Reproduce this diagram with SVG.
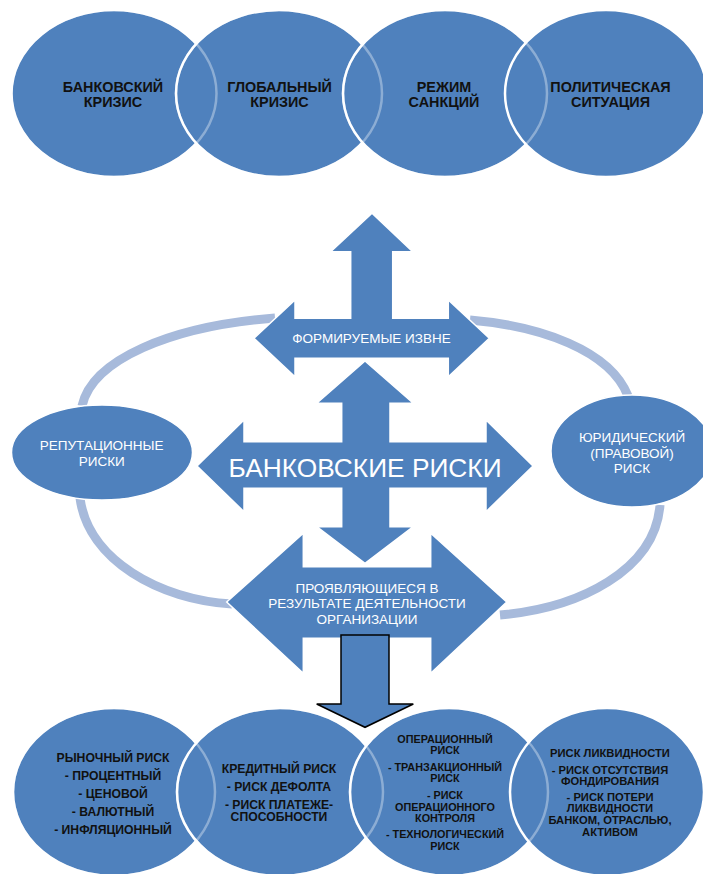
<svg xmlns="http://www.w3.org/2000/svg" width="703" height="874" viewBox="0 0 703 874">
<style>
.c{fill:#4F81BD;stroke:#fff;stroke-width:2.5}
.fo{fill:none;stroke:#fff;stroke-width:2.5;stroke-opacity:0.35}
.s{fill:#4F81BD;stroke:#fff;stroke-width:1.5}
.ring{fill:none;stroke:#A7BADB;stroke-width:9}
.tb{font-family:"Liberation Sans",Arial,sans-serif;font-weight:bold;fill:#111;text-anchor:middle}
.tw{font-family:"Liberation Sans",Arial,sans-serif;fill:#fff;text-anchor:middle}
.t14{font-size:14.4px}
.b1{font-size:12.2px}
.b3{font-size:10.8px}
.b4{font-size:11.2px}
.t13{font-size:13.5px}
</style>
<rect width="703" height="874" fill="#fff"/>

<g id="connectors">
<path class="ring" d="M 82 406 C 92 360 170 326 275 318"/>
<path class="ring" d="M 470 320 C 540 326 610 350 628 396"/>
<path class="ring" d="M 80 498 C 88 560 160 600 232 604"/>
<path class="ring" d="M 660 505 C 655 570 580 608 500 615"/>
</g>

<g id="top-circles">
<g id="bank-crisis"><ellipse class="c" cx="114" cy="93.5" rx="102.5" ry="83.5"/></g>
<g id="global-crisis"><ellipse class="c" cx="279" cy="93.5" rx="103" ry="83.5"/></g>
<g id="sanctions"><ellipse class="c" cx="445" cy="93.5" rx="102" ry="83.5"/></g>
<g id="politics"><ellipse class="c" cx="606" cy="93.5" rx="101" ry="83.5"/></g>
<ellipse class="fo" cx="114" cy="93.5" rx="102.5" ry="83.5"/>
<ellipse class="fo" cx="279" cy="93.5" rx="103" ry="83.5"/>
<ellipse class="fo" cx="445" cy="93.5" rx="102" ry="83.5"/>
<text class="tb t14" x="113" y="91.7">БАНКОВСКИЙ</text>
<text class="tb t14" x="113" y="106.7">КРИЗИС</text>
<text class="tb t14" x="279.5" y="91.7">ГЛОБАЛЬНЫЙ</text>
<text class="tb t14" x="279.5" y="106.7">КРИЗИС</text>
<text class="tb t14" x="444" y="91.7">РЕЖИМ</text>
<text class="tb t14" x="444" y="106.7">САНКЦИЙ</text>
<text class="tb t14" x="610.5" y="91.7">ПОЛИТИЧЕСКАЯ</text>
<text class="tb t14" x="610.5" y="106.7">СИТУАЦИЯ</text>
</g>

<g id="reputational">
<ellipse class="s" cx="102" cy="452.5" rx="90.5" ry="47.5"/>
<text class="tw t13" x="101.7" y="450">РЕПУТАЦИОННЫЕ</text>
<text class="tw t13" x="101.7" y="465.7">РИСКИ</text>
</g>

<g id="legal">
<ellipse class="s" cx="632" cy="451" rx="81" ry="56"/>
<text class="tw t13" x="632" y="442.3">ЮРИДИЧЕСКИЙ</text>
<text class="tw t13" x="632" y="457.7">(ПРАВОВОЙ)</text>
<text class="tw t13" x="632" y="473.3">РИСК</text>
</g>

<g id="external">
<polygon class="s" points="372,213.3 412.7,251.7 392.7,251.7 392.7,318.3 448.3,318.3 448.3,300 489.3,338.3 448.3,376.7 448.3,358.3 295,358.3 295,376.7 254,338.3 295,300 295,318.3 350.7,318.3 350.7,251.7 330.7,251.7"/>
<text class="tw t13" x="371.5" y="343.3">ФОРМИРУЕМЫЕ ИЗВНЕ</text>
</g>

<g id="bank-risks">
<polygon class="s" points="365,361 413.3,403.3 390,403.3 390,441.7 486,441.7 486,420 533,466 486,511.7 486,488.3 390,488.3 390,526.7 413.3,526.7 365,563.3 316.7,526.7 341.7,526.7 341.7,488.3 244,488.3 244,511.7 197,466 244,420 244,441.7 341.7,441.7 341.7,403.3 316.7,403.3"/>
<text class="tw" x="365" y="476.7" style="font-size:26.3px">БАНКОВСКИЕ РИСКИ</text>
</g>

<g id="internal">
<polygon class="s" points="226.7,602 303.3,533.3 303.3,566.7 430.7,566.7 430.7,533.3 506.7,602 430.7,673.3 430.7,638.3 303.3,638.3 303.3,673.3"/>
<text class="tw t13" x="367" y="593.3">ПРОЯВЛЯЮЩИЕСЯ В</text>
<text class="tw t13" x="367" y="608.3">РЕЗУЛЬТАТЕ ДЕЯТЕЛЬНОСТИ</text>
<text class="tw t13" x="367" y="624">ОРГАНИЗАЦИИ</text>
</g>

<g id="bottom-circles">
<g id="market"><ellipse class="c" cx="114" cy="792" rx="101" ry="84"/></g>
<g id="credit"><ellipse class="c" cx="280" cy="792" rx="103" ry="84"/></g>
<g id="operational"><ellipse class="c" cx="449" cy="792" rx="99" ry="84"/></g>
<g id="liquidity"><ellipse class="c" cx="607" cy="792" rx="97" ry="84"/></g>
<ellipse class="fo" cx="114" cy="792" rx="101" ry="84"/>
<ellipse class="fo" cx="280" cy="792" rx="103" ry="84"/>
<ellipse class="fo" cx="449" cy="792" rx="99" ry="84"/>
<text class="tb b1" x="113" y="761.5">РЫНОЧНЫЙ РИСК</text>
<text class="tb b1" x="113" y="779.5">- ПРОЦЕНТНЫЙ</text>
<text class="tb b1" x="113" y="797.5">- ЦЕНОВОЙ</text>
<text class="tb b1" x="113" y="815.5">- ВАЛЮТНЫЙ</text>
<text class="tb b1" x="113" y="834">- ИНФЛЯЦИОННЫЙ</text>
<text class="tb b1" x="279" y="773">КРЕДИТНЫЙ РИСК</text>
<text class="tb b1" x="279" y="791">- РИСК ДЕФОЛТА</text>
<text class="tb b1" x="279" y="808.5">- РИСК ПЛАТЕЖЕ-</text>
<text class="tb b1" x="279" y="821">СПОСОБНОСТИ</text>
<text class="tb b3" x="445" y="743.3">ОПЕРАЦИОННЫЙ</text>
<text class="tb b3" x="445" y="754.3">РИСК</text>
<text class="tb b3" x="445" y="770.7">- ТРАНЗАКЦИОННЫЙ</text>
<text class="tb b3" x="445" y="782.3">РИСК</text>
<text class="tb b3" x="445" y="799">- РИСК</text>
<text class="tb b3" x="445" y="810.7">ОПЕРАЦИОННОГО</text>
<text class="tb b3" x="445" y="822">КОНТРОЛЯ</text>
<text class="tb b3" x="445" y="838.3">- ТЕХНОЛОГИЧЕСКИЙ</text>
<text class="tb b3" x="445" y="850">РИСК</text>
<text class="tb b4" x="610" y="756.7">РИСК ЛИКВИДНОСТИ</text>
<text class="tb b4" x="610" y="774">- РИСК ОТСУТСТВИЯ</text>
<text class="tb b4" x="610" y="784.5">ФОНДИРОВАНИЯ</text>
<text class="tb b4" x="610" y="800.7">- РИСК ПОТЕРИ</text>
<text class="tb b4" x="610" y="812.3">ЛИКВИДНОСТИ</text>
<text class="tb b4" x="610" y="823.5">БАНКОМ, ОТРАСЛЬЮ,</text>
<text class="tb b4" x="610" y="835.7">АКТИВОМ</text>
</g>

<g id="down-arrow">
<polygon points="341,635 389,635 389,704 413.3,704 365,727.3 316.7,704 341,704" fill="#4F81BD" stroke="#000" stroke-width="1.5" stroke-linejoin="miter"/>
</g>
</svg>
